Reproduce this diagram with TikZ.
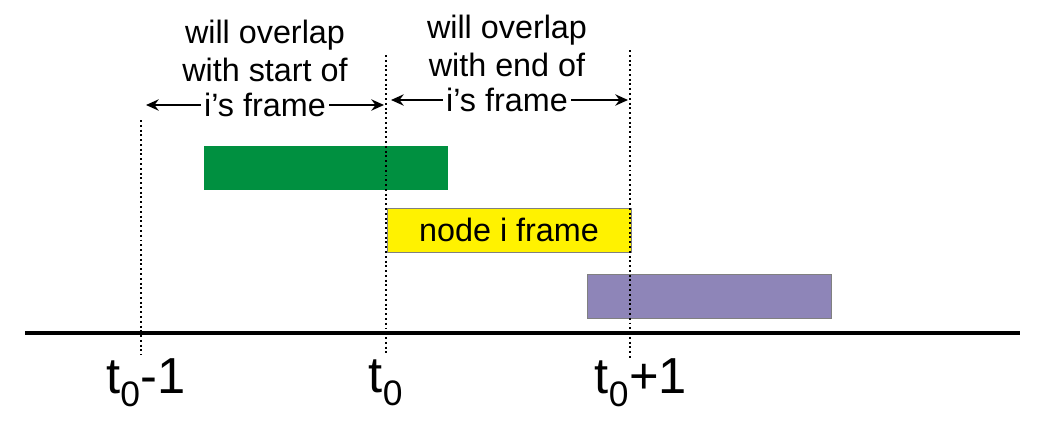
\documentclass[tikz,border=0pt]{standalone}
\usepackage{fontspec}
\setmainfont{Liberation Sans}
\usetikzlibrary{positioning,arrows.meta}

\begin{document}
\begin{tikzpicture}[x=0.025cm, y=-0.025cm, thick]

    % Define styles
    \tikzset{
        guide/.style = {draw, line width=1.4pt, dotted},
        frame/.style = {minimum width=6.1cm, minimum height=1.1cm, inner sep=0pt},
        lbl/.style = {font=\fontsize{23}{25}\selectfont, inner sep=2pt},
        tick/.style = {font=\fontsize{36}{38}\selectfont, inner sep=0pt},
        span/.style = {-{Stealth[length=9pt, width=8pt]}, line width=1.8pt}
    }
    \useasboundingbox (0,0) rectangle (1042,434);

    % TIME AXIS
    \coordinate (ax_start) at (25,333);
    \coordinate (ax_end) at (1020,333);
    \draw[line width=2.2pt] (ax_start) -- (ax_end);

    % GUIDES
    \coordinate (g1_top) at (141,120);
    \coordinate (g1_bot) at (141,355);
    \coordinate (g2_top) at (386,55);
    \coordinate (g2_bot) at (386,355);
    \coordinate (g3_top) at (630,50);
    \coordinate (g3_bot) at (630,360);

    % FRAMES
    \node (early_frame) [frame, fill={rgb,255:red,0;green,144;blue,64}] at (326,168) {};
    \node (own_frame) [frame, fill=yellow, draw=gray, thin, lbl] at (509,230) {node i frame};
    \node (late_frame) [frame, fill={rgb,255:red,142;green,133;blue,184}, draw=gray, thin] at (709,296) {};

    \draw[guide] (g1_top) -- (g1_bot);
    \draw[guide] (g2_top) -- (g2_bot);
    \draw[guide] (g3_top) -- (g3_bot);

    % TICK LABELS
    \node (t_prev) [tick] at (146,383) {t\textsubscript{0}-1};
    \node (t_now) [tick] at (386,383) {t\textsubscript{0}};
    \node (t_next) [tick] at (641,383) {t\textsubscript{0}+1};

    % LEFT TEXT
    \node (left_a) [lbl] at (265,35) {will overlap};
    \node (left_b) [lbl] at (265,70) {with start of};
    \node (left_c) [lbl] at (265,105) {i’s frame};

    % RIGHT TEXT
    \node (right_a) [lbl] at (507,30) {will overlap};
    \node (right_b) [lbl] at (507,65) {with end of};
    \node (right_c) [lbl] at (507,100) {i’s frame};

    % ARROWS
    \coordinate (left_from) at (146,105);
    \coordinate (left_to) at (384,105);
    \coordinate (right_from) at (391,100);
    \coordinate (right_to) at (628,100);
    \draw[span] (left_c.west) -- (left_from);
    \draw[span] (left_c.east) -- (left_to);
    \draw[span] (right_c.west) -- (right_from);
    \draw[span] (right_c.east) -- (right_to);

\end{tikzpicture}
\end{document}
